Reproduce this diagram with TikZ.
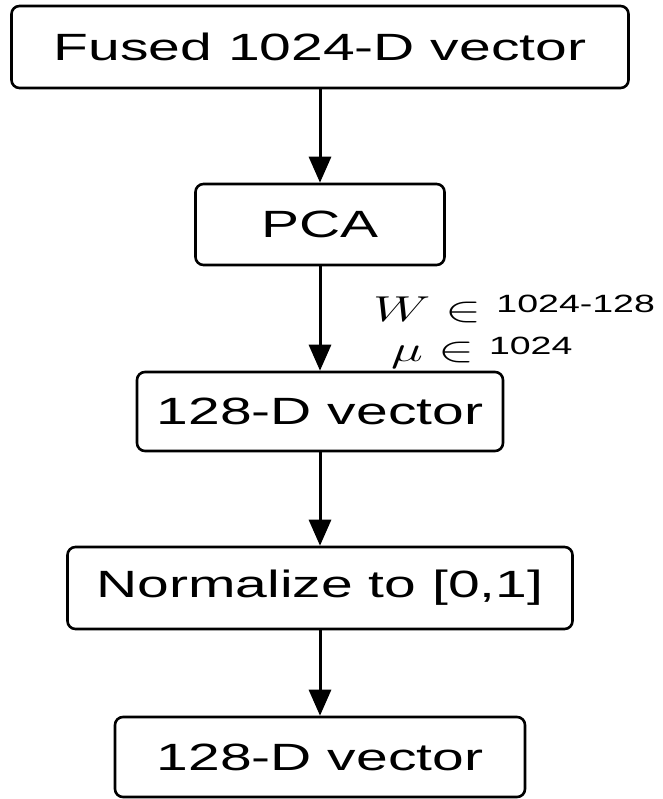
\RequirePackage{fix-cm}
\documentclass[tikz,border=0pt]{standalone}
\usepackage[no-math]{fontspec}
\setmainfont{Liberation Sans}
\usepackage{graphicx}
\usetikzlibrary{arrows.meta}

% wide lettering used throughout the chart
\newcommand\widetext[1]{\scalebox{1.5}[1]{#1}}

\tikzset{
  stage/.style={draw=black, line width=2.6pt, rounded corners=8pt,
    inner sep=0pt, fill=white, font=\fontsize{38}{44}\selectfont},
  flow/.style={line width=3pt, -{Triangle[length=26pt,width=22pt]}},
  eqlabel/.style={anchor=base west, inner sep=0pt}
}

\begin{document}
\begin{tikzpicture}[x=1pt, y=-1pt]
  \useasboundingbox (0,0) rectangle (662,799);

  % processing stages
  \node[stage, minimum width=617pt, minimum height=82pt] (fused) at (320,47)
    {\widetext{Fused 1024-D vector}};
  \node[stage, minimum width=249pt, minimum height=81pt] (pca) at (320,224.5)
    {\widetext{PCA}};
  \node[stage, minimum width=366pt, minimum height=79pt] (red) at (320,411.5)
    {\widetext{128-D vector}};
  \node[stage, minimum width=505pt, minimum height=82pt] (norm) at (320,588)
    {\widetext{Normalize to [0,1]}};
  \node[stage, minimum width=410pt, minimum height=80pt] (out) at (320,757)
    {\widetext{128-D vector}};

  % PCA parameters
  \node[eqlabel] (wlab) at (373,321)
    {\widetext{\fontsize{36}{36}\selectfont$W\in$\hspace{10pt}\raisebox{9pt}{\fontsize{25}{26}\selectfont 1024-128}}};
  \node[eqlabel] (mulab) at (391,361)
    {\widetext{\fontsize{36}{36}\selectfont$\mu\in$\hspace{10pt}\raisebox{7pt}{\fontsize{25}{26}\selectfont 1024}}};

  % connectors
  \draw[flow] (fused.south) -- (pca.north);
  \draw[flow] (pca.south) -- (red.north);
  \draw[flow] (red.south) -- (norm.north);
  \draw[flow] (norm.south) -- (out.north);
\end{tikzpicture}
\end{document}
